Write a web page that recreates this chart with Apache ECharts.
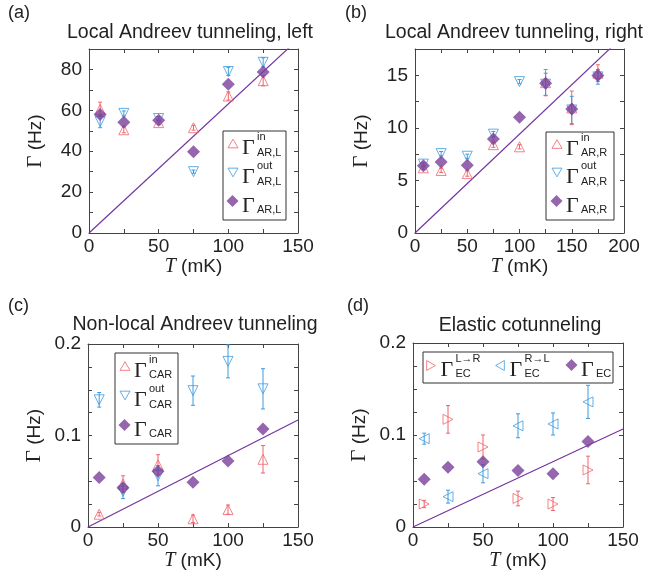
<!DOCTYPE html>
<html>
<head>
<meta charset="utf-8">
<script src="https://cdn.jsdelivr.net/npm/echarts@6/dist/echarts.min.js"></script>
<style>
html,body{margin:0;padding:0;background:#fff;}
#chart{width:662px;height:582px;}
</style>
</head>
<body>
<div id="chart"></div>
<script>
// ---------- data ----------
// (a) Local Andreev tunneling, left
const T_A = [8, 25, 50, 75, 100, 125];
const A_in = [60.5, 50.5, 54, 51.5, 67, 74.5];
const A_in_err = [3.5, 1.5, 1, 1.2, 2, 2.5];
const A_out = [54.5, 58.5, 56, 30, 79, 83.5];
const A_out_err = [3, 1.2, 1, 0.8, 2, 2.2];
const A_tot = [58, 54.2, 55.2, 39.8, 72.7, 78.7];
const FIT_A = [[0, 0], [150, 94.7]];

// (b) Local Andreev tunneling, right
const T_B = [8, 25, 50, 75, 100, 125, 150, 175];
const B_in = [6.2, 5.95, 5.65, 8.4, 8.2, 14.3, 11.9, 15.2];
const B_in_err = [0.15, 0.2, 0.25, 0.25, 0.2, 1.25, 1.6, 0.8];
const B_out = [6.55, 7.55, 7.3, 9.4, 14.4, 14.15, 11.7, 14.85];
const B_out_err = [0.15, 0.2, 0.2, 0.25, 0.2, 1.05, 1.3, 0.7];
const B_tot = [6.4, 6.75, 6.45, 8.95, 11.0, 14.25, 11.8, 14.97];
const FIT_B = [[0, 0], [200, 18.8]];

// (c) Non-local Andreev tunneling
const T_C = [8, 25, 50, 75, 100, 125];
const C_in = [0.014, 0.047, 0.068, 0.009, 0.019, 0.074];
const C_in_err = [0.002, 0.009, 0.011, 0.004, 0.005, 0.015];
const C_out = [0.139, 0.039, 0.056, 0.149, 0.181, 0.151];
const C_out_err = [0.008, 0.008, 0.011, 0.016, 0.018, 0.022];
const C_tot = [0.054, 0.043, 0.061, 0.049, 0.072, 0.107];
const FIT_C = [[0, 0], [150, 0.117]];

// (d) Elastic cotunneling
const T_D = [8, 25, 50, 75, 100, 125];
const D_LR = [0.025, 0.117, 0.087, 0.031, 0.025, 0.062];
const D_LR_err = [0.004, 0.015, 0.013, 0.008, 0.007, 0.015];
const D_RL = [0.096, 0.033, 0.058, 0.110, 0.112, 0.136];
const D_RL_err = [0.006, 0.007, 0.010, 0.013, 0.012, 0.018];
const D_tot = [0.052, 0.065, 0.071, 0.0615, 0.058, 0.093];
const FIT_D = [[0, 0], [150, 0.1065]];

// tick settings
const X_MAX = [150, 200, 150, 150];
const Y_MAX = [90, 17.5, 0.2, 0.2];
const Y_INT = [20, 5, 0.1, 0.1];
const Y_MINOR = [2, 2, 4, 4];

const TITLES = ['Local Andreev tunneling, left', 'Local Andreev tunneling, right',
                'Non-local Andreev tunneling', 'Elastic cotunneling'];
const PANEL_LABELS = ['(a)', '(b)', '(c)', '(d)'];

// legend labels: [sup, sub]
const LEG = [
  [['in', 'AR,L'], ['out', 'AR,L'], ['', 'AR,L']],
  [['in', 'AR,R'], ['out', 'AR,R'], ['', 'AR,R']],
  [['in', 'CAR'], ['out', 'CAR'], ['', 'CAR']],
  [['L\u2192R', 'EC'], ['R\u2192L', 'EC'], ['', 'EC']]
];

// ---------- styling / layout ----------
const RED = '#f0646c', BLUE = '#3d9be0', PUR = '#7b3f98', LINEC = '#7434a0';
const AX = '#444', TXT = '#222';
const SANS = 'Liberation Sans, Arial, sans-serif';
const SERIF = 'Liberation Serif, Times New Roman, serif';

// legend icon shapes
const ICON = {
  up: 'path://M5,0 L10,8.66 L0,8.66 Z',
  down: 'path://M0,0 L10,0 L5,8.66 Z',
  right: 'path://M0,0 L8.66,5 L0,10 Z',
  left: 'path://M8.66,0 L8.66,10 L0,5 Z',
  diamond: 'diamond'
};

const GRIDS = [
  {left: 89, top: 49, width: 209, height: 184},
  {left: 415, top: 49, width: 209, height: 184},
  {left: 88, top: 344, width: 210, height: 183},
  {left: 413, top: 343, width: 210, height: 184}
];
const TITLE_POS = [[190, 23], [514, 23], [195, 315], [520, 316]];
const LABEL_POS = [[8, 4], [345, 4], [8, 297], [347, 297]];
// legend: box [x,y,w,h], icon centers list
const LEG_BOX = [[223, 131, 63, 89], [546, 132, 68, 88], [115, 353, 63, 91], [423, 352, 190, 31]];
const LEG_ICONS = [
  [[232.5, 143.5], [232.5, 172.5], [232.5, 201]],
  [[556.5, 144], [556.5, 172.5], [556.5, 201]],
  [[124.5, 366], [124.5, 395.5], [124.5, 425]],
  [[431, 365], [500, 365], [571.5, 365]]
];

const panelData = [
  {T: T_A, s1: A_in, e1: A_in_err, s2: A_out, e2: A_out_err, tot: A_tot, fit: FIT_A, r1: 0, r2: 180, i1: 'up', i2: 'down'},
  {T: T_B, s1: B_in, e1: B_in_err, s2: B_out, e2: B_out_err, tot: B_tot, fit: FIT_B, r1: 0, r2: 180, i1: 'up', i2: 'down'},
  {T: T_C, s1: C_in, e1: C_in_err, s2: C_out, e2: C_out_err, tot: C_tot, fit: FIT_C, r1: 0, r2: 180, i1: 'up', i2: 'down'},
  {T: T_D, s1: D_LR, e1: D_LR_err, s2: D_RL, e2: D_RL_err, tot: D_tot, fit: FIT_D, r1: -90, r2: 90, i1: 'right', i2: 'left'}
];

const grid = [], xAxis = [], yAxis = [], series = [], title = [], legend = [], graphic = [];

function errRender(color) {
  return function (params, api) {
    const x = api.value(0), lo = api.value(1), hi = api.value(2);
    const p1 = api.coord([x, hi]), p2 = api.coord([x, lo]);
    const c = 2;
    return {
      type: 'group',
      children: [
        {type: 'line', shape: {x1: p1[0], y1: p1[1], x2: p2[0], y2: p2[1]}, style: {stroke: color, lineWidth: 1}},
        {type: 'line', shape: {x1: p1[0] - c, y1: p1[1], x2: p1[0] + c, y2: p1[1]}, style: {stroke: color, lineWidth: 1}},
        {type: 'line', shape: {x1: p2[0] - c, y1: p2[1], x2: p2[0] + c, y2: p2[1]}, style: {stroke: color, lineWidth: 1}}
      ]
    };
  };
}

panelData.forEach((p, i) => {
  grid.push(Object.assign({containLabel: false}, GRIDS[i]));
  const tick = {show: true, inside: true, length: 4, lineStyle: {color: AX}};
  const minorX = {show: true, splitNumber: 2, length: 4, lineStyle: {color: AX}};
  const minorY = {show: true, splitNumber: Y_MINOR[i], length: 4, lineStyle: {color: AX}};
  const line = {show: true, onZero: false, lineStyle: {color: AX, width: 1}};
  xAxis.push({
    type: 'value', gridIndex: i, min: 0, max: X_MAX[i], interval: 50, position: 'bottom',
    axisLine: line, axisTick: tick, minorTick: minorX, splitLine: {show: false},
    axisLabel: {color: TXT, fontSize: 19, fontFamily: SANS, margin: 4},
    name: '{t|T} (mK)', nameLocation: 'middle', nameGap: 21,
    nameTextStyle: {color: TXT, fontSize: 19, fontFamily: SANS,
      rich: {t: {fontFamily: SERIF, fontStyle: 'italic', fontSize: 20, color: TXT}}}
  });
  xAxis.push({
    type: 'value', gridIndex: i, min: 0, max: X_MAX[i], interval: 50, position: 'top',
    axisLine: line, axisTick: tick, minorTick: minorX, splitLine: {show: false}, axisLabel: {show: false}
  });
  yAxis.push({
    type: 'value', gridIndex: i, min: 0, max: Y_MAX[i], interval: Y_INT[i], position: 'left',
    axisLine: line, axisTick: tick, minorTick: minorY, splitLine: {show: false},
    axisLabel: {color: TXT, fontSize: 19, fontFamily: SANS, margin: 7, showMaxLabel: Y_MAX[i] % Y_INT[i] === 0},
    name: '{g|\u0393} (Hz)', nameLocation: 'middle', nameGap: 43,
    nameTextStyle: {color: TXT, fontSize: 19, fontFamily: SANS,
      rich: {g: {fontFamily: SERIF, fontSize: 21, color: TXT}}}
  });
  yAxis.push({
    type: 'value', gridIndex: i, min: 0, max: Y_MAX[i], interval: Y_INT[i], position: 'right',
    axisLine: line, axisTick: tick, minorTick: minorY, splitLine: {show: false}, axisLabel: {show: false}
  });
  const xi = i * 2, yi = i * 2;
  const n1 = 'p' + i + '_1', n2 = 'p' + i + '_2', n3 = 'p' + i + '_3';
  series.push({
    type: 'line', xAxisIndex: xi, yAxisIndex: yi, data: p.fit, showSymbol: false, symbol: 'none',
    lineStyle: {color: LINEC, width: 1.2}, clip: true, z: 1, silent: true
  });
  series.push({
    type: 'custom', xAxisIndex: xi, yAxisIndex: yi, renderItem: errRender(RED), clip: true, z: 2, silent: true,
    data: p.T.map((t, k) => [t, p.s1[k] - p.e1[k], p.s1[k] + p.e1[k]])
  });
  series.push({
    type: 'custom', xAxisIndex: xi, yAxisIndex: yi, renderItem: errRender(BLUE), clip: true, z: 2, silent: true,
    data: p.T.map((t, k) => [t, p.s2[k] - p.e2[k], p.s2[k] + p.e2[k]])
  });
  series.push({
    name: n1, type: 'scatter', xAxisIndex: xi, yAxisIndex: yi, symbol: 'triangle', symbolSize: 10,
    symbolRotate: p.r1, itemStyle: {color: 'rgba(255,255,255,0)', borderColor: RED, borderWidth: 1}, z: 3,
    data: p.T.map((t, k) => [t, p.s1[k]])
  });
  series.push({
    name: n2, type: 'scatter', xAxisIndex: xi, yAxisIndex: yi, symbol: 'triangle', symbolSize: 10,
    symbolRotate: p.r2, itemStyle: {color: 'rgba(255,255,255,0)', borderColor: BLUE, borderWidth: 1}, z: 3,
    data: p.T.map((t, k) => [t, p.s2[k]])
  });
  series.push({
    name: n3, type: 'scatter', xAxisIndex: xi, yAxisIndex: yi, symbol: 'diamond', symbolSize: 13,
    itemStyle: {color: PUR}, z: 4,
    data: p.T.map((t, k) => [t, p.tot[k]])
  });

  // titles and panel labels
  title.push({text: TITLES[i], left: TITLE_POS[i][0], top: TITLE_POS[i][1], textAlign: 'center', padding: 0,
    textStyle: {color: TXT, fontSize: 19.5, fontWeight: 'normal', fontFamily: SANS}});
  title.push({text: PANEL_LABELS[i], left: LABEL_POS[i][0], top: LABEL_POS[i][1], padding: 0,
    textStyle: {color: TXT, fontSize: 18, fontWeight: 'normal', fontFamily: SANS}});

  // legend box
  const b = LEG_BOX[i];
  graphic.push({type: 'rect', shape: {x: b[0], y: b[1], width: b[2], height: b[3]},
    style: {fill: '#fff', stroke: '#333', lineWidth: 1}, z: 10, silent: true});
  // legend icons (one ECharts legend per icon so positions are exact)
  const names = [n1, n2, n3];
  const colors = [RED, BLUE, PUR];
  const icons = [ICON[p.i1], ICON[p.i2], ICON.diamond];
  names.forEach((nm, k) => {
    const c = LEG_ICONS[i][k];
    const sz = k === 2 ? 12 : 10;
    const hollow = k < 2;
    legend.push({
      data: [{name: nm, icon: icons[k]}],
      left: c[0] - sz / 2, top: c[1] - sz / 2, itemWidth: sz, itemHeight: sz, padding: 0,
      itemGap: 0, selectedMode: false, formatter: () => '', z: 12,
      itemStyle: hollow ? {color: 'rgba(255,255,255,0)', borderColor: colors[k], borderWidth: 1}
                        : {color: colors[k], borderWidth: 0},
      textStyle: {fontSize: 1, padding: 0}
    });
    const lab = LEG[i][k];
    const gx = c[0] + 9.5, cy = c[1];
    graphic.push({type: 'text', left: gx, top: cy - 6, z: 12, silent: true,
      style: {text: '\u0393', font: '22px ' + SERIF, fill: TXT}});
    if (lab[0]) graphic.push({type: 'text', left: gx + 15, top: cy - 12, z: 12, silent: true,
      style: {text: lab[0], font: '11px ' + SANS, fill: TXT}});
    graphic.push({type: 'text', left: gx + 15, top: cy + 3.5, z: 12, silent: true,
      style: {text: lab[1], font: '11px ' + SANS, fill: TXT}});
  });
});

const chart = echarts.init(document.getElementById('chart'), null, {renderer: 'canvas'});
chart.setOption({
  animation: false,
  backgroundColor: '#fff',
  title, grid, xAxis, yAxis, series, legend, graphic
});
</script>
</body>
</html>
